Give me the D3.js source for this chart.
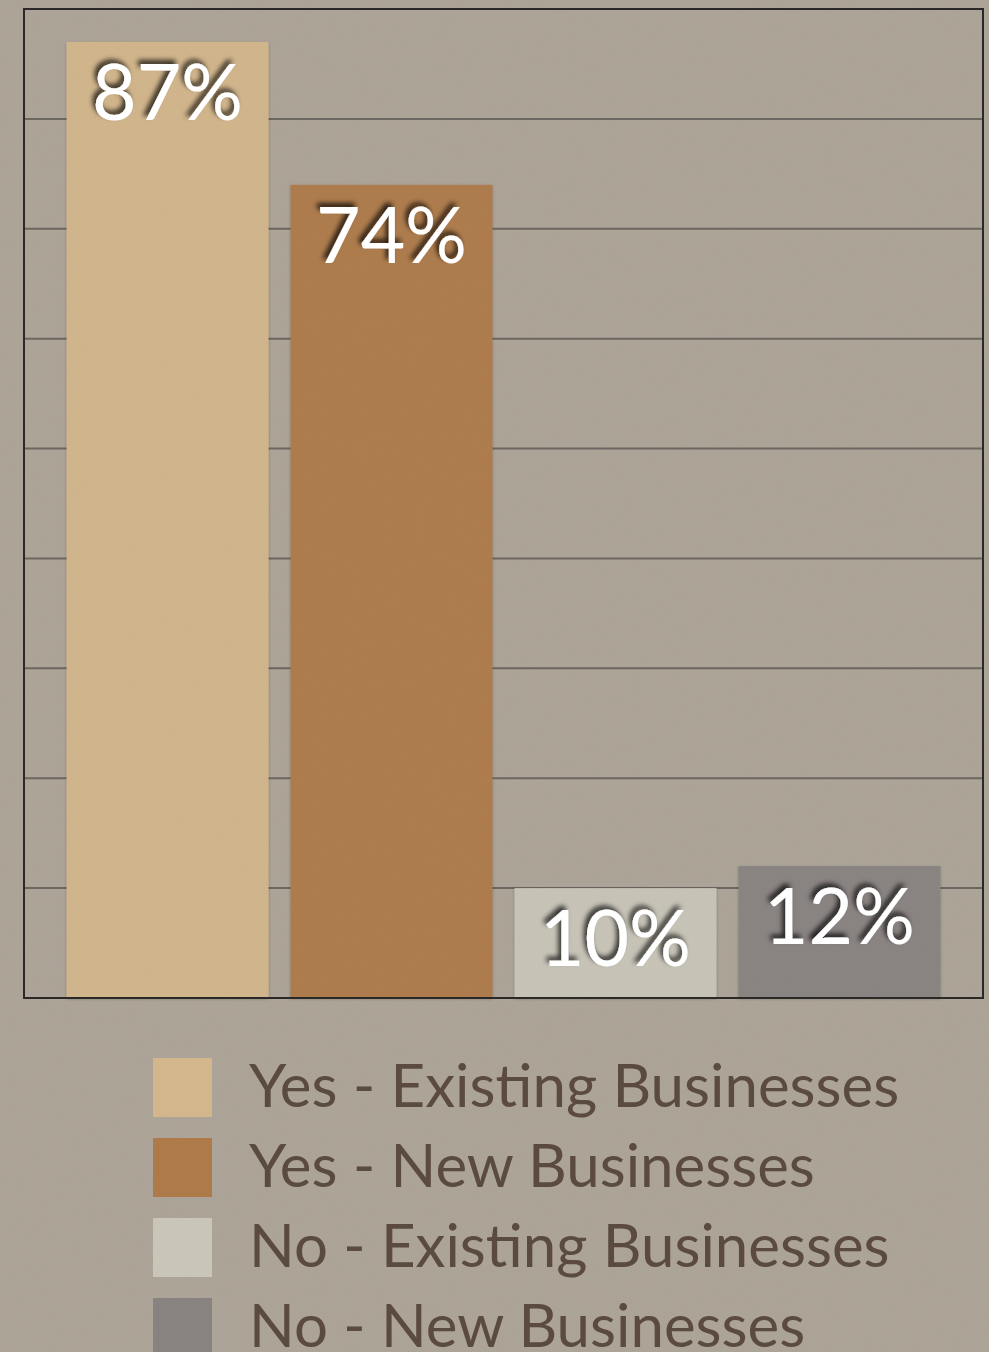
<!DOCTYPE html>
<html><head><meta charset="utf-8">
<script src="https://cdn.jsdelivr.net/npm/d3@7"></script>
<style>html,body{margin:0;padding:0;background:#aca397;}svg{display:block;}</style>
</head><body>
<svg id="chart" width="989" height="1352"></svg>
<script>
const categories = ["Yes - Existing Businesses","Yes - New Businesses","No - Existing Businesses","No - New Businesses"];
const values = [87, 74, 10, 12];
const labels = ["87%","74%","10%","12%"];
const colors = ["#d3b68b","#ae7a4a","#c9c5b9","#888281"];
const yTicks = [0,10,20,30,40,50,60,70,80,90];

const svg = d3.select("#chart");
const W = 989, H = 1352;
const defs = svg.append("defs");
const f = defs.append("filter").attr("id","noise").attr("x",0).attr("y",0).attr("width","100%").attr("height","100%");
f.append("feTurbulence").attr("type","fractalNoise").attr("baseFrequency",0.9).attr("numOctaves",2).attr("seed",3).attr("result","t");
f.append("feColorMatrix").attr("in","t").attr("type","matrix")
 .attr("values","0 0 0 0 0.35  0 0 0 0 0.32  0 0 0 0 0.28  0 0 0 0.35 0").attr("result","n");
f.append("feComposite").attr("in","n").attr("in2","SourceGraphic").attr("operator","in");
const sh = defs.append("filter").attr("id","tshadow").attr("x","-20%").attr("y","-20%").attr("width","140%").attr("height","140%");
sh.append("feDropShadow").attr("dx",-3).attr("dy",-4).attr("stdDeviation",2.5).attr("flood-color","#000").attr("flood-opacity",0.75);
const bs = defs.append("filter").attr("id","bshadow").attr("x","-10%").attr("y","-10%").attr("width","120%").attr("height","120%");
bs.append("feDropShadow").attr("dx",0).attr("dy",1).attr("stdDeviation",1.5).attr("flood-color","#000").attr("flood-opacity",0.25);

svg.append("rect").attr("width",W).attr("height",H).attr("fill","#aea599");
svg.append("rect").attr("width",W).attr("height",H).attr("fill","#aea599").attr("filter","url(#noise)").attr("opacity",0.6);

const m = {l:24, r:983, t:9, b:998};
const x = d3.scaleBand().domain(categories).range([m.l, m.r]).paddingInner(22/224).paddingOuter(0.19);
const y = d3.scaleLinear().domain([0,90]).range([m.b, m.t]);

// gridlines
const g = svg.append("g");
g.selectAll("line.grid").data(yTicks.filter(t=>t>0 && t<90)).join("line")
 .attr("x1",m.l).attr("x2",m.r).attr("y1",d=>y(d)).attr("y2",d=>y(d))
 .attr("stroke","#6c6660").attr("stroke-width",2);

// bars
svg.append("g").selectAll("rect").data(values).join("rect")
 .attr("x",(d,i)=>x(categories[i])).attr("width",x.bandwidth())
 .attr("y",d=>y(d)).attr("height",d=>y(0)-y(d))
 .attr("fill",(d,i)=>colors[i]).attr("filter","url(#bshadow)");
svg.append("g").selectAll("rect").data(values).join("rect")
 .attr("x",(d,i)=>x(categories[i])).attr("width",x.bandwidth())
 .attr("y",d=>y(d)).attr("height",d=>y(0)-y(d))
 .attr("fill","#fff").attr("filter","url(#noise)").attr("opacity",0.35);

// frame
svg.append("rect").attr("x",m.l).attr("y",m.t).attr("width",m.r-m.l).attr("height",m.b-m.t)
 .attr("fill","none").attr("stroke","#2b2927").attr("stroke-width",2);

// value labels
svg.append("g").selectAll("text").data(values).join("text")
 .attr("x",(d,i)=>x(categories[i])+x.bandwidth()/2)
 .attr("y",d=>y(d)+78)
 .attr("text-anchor","middle")
 .attr("font-family","Lato, 'Open Sans', sans-serif")
 .attr("font-size",77)
 .attr("fill","#ffffff")
 .attr("filter","url(#tshadow)")
 .text((d,i)=>labels[i]);

// legend
const lg = svg.append("g");
categories.forEach((c,i)=>{
  const yy = 1058 + i*80;
  lg.append("rect").attr("x",153).attr("y",yy).attr("width",59).attr("height",59).attr("fill",colors[i]);
  lg.append("text").attr("x",249).attr("y",yy+49)
    .attr("font-family","Lato, 'Open Sans', sans-serif").attr("font-size",60)
    .attr("fill","#5b4a3f").text(c);
});
</script>
</body></html>
